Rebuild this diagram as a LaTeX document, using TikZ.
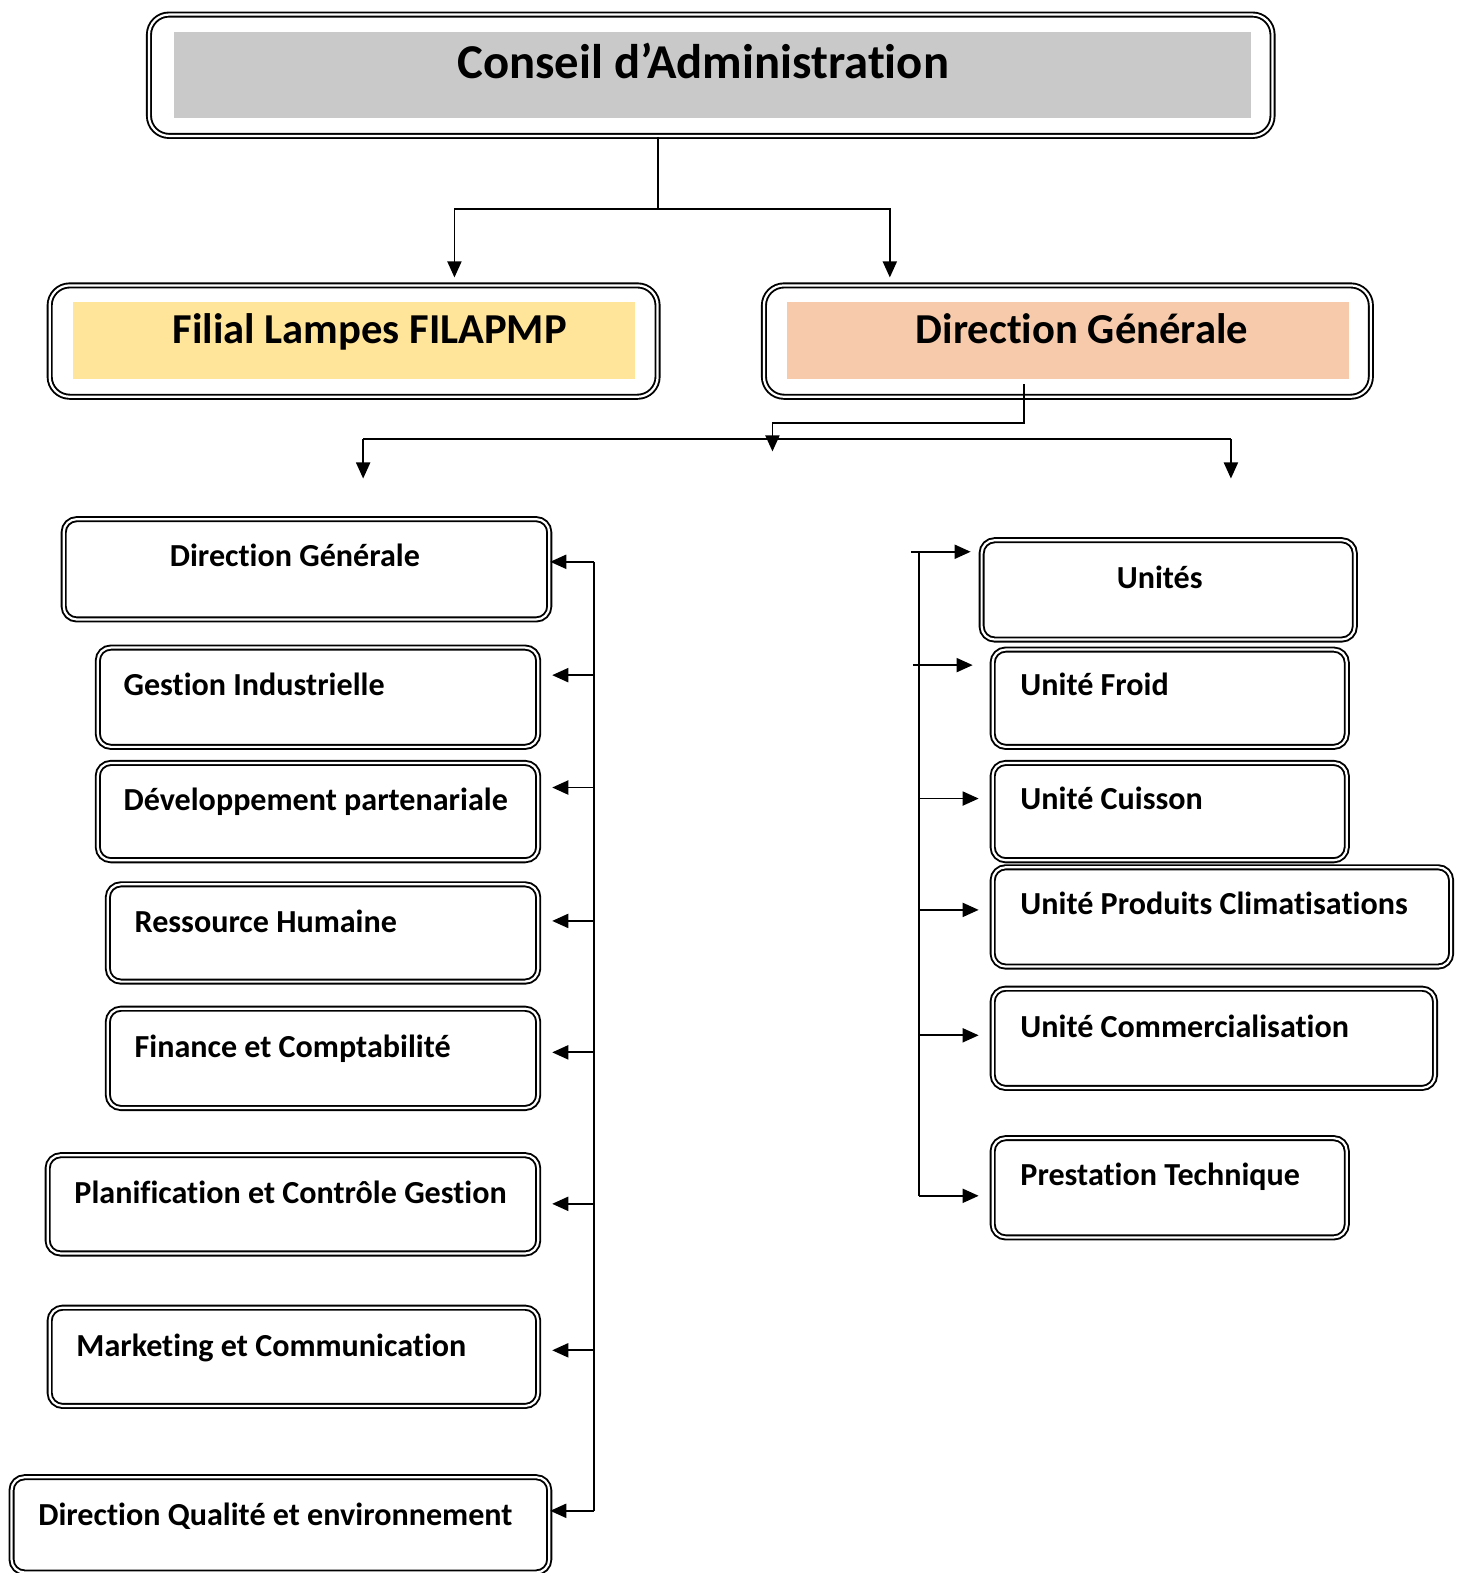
\documentclass[tikz,border=0pt]{standalone}
\usepackage{fontspec}
\setmainfont{Carlito}[RawFeature=-liga, RawFeature=-clig, RawFeature=-calt, RawFeature=-dlig]
\usetikzlibrary{arrows.meta}

\definecolor{bandgray}{HTML}{C9C9C9}
\definecolor{bandgold}{HTML}{FFE599}
\definecolor{bandpeach}{HTML}{F7CAAC}

\begin{document}
\begin{tikzpicture}[x=1pt, y=-1pt,
  orgbox/.style={draw, double, line width=1.9pt, double distance=2.2pt, rounded corners=13pt, inner sep=0pt},
  bigbox/.style={orgbox, rounded corners=20pt},
  bandbox/.style={inner sep=0pt},
  ctext/.style={font=\fontsize{48.5}{58}\selectfont\bfseries, inner sep=0pt, anchor=base},
  htext/.style={font=\fontsize{42.5}{50}\selectfont\bfseries, inner sep=0pt, anchor=base},
  utext/.style={font=\fontsize{32}{38}\selectfont\bfseries, inner sep=0pt, anchor=base west},
  wire/.style={line width=1.8pt},
  link/.style={wire, -{Triangle[length=16pt,width=14pt]}}]
\useasboundingbox (0,0) rectangle (1459,1568);

% top level
\node[bigbox, minimum width=1120pt, minimum height=121pt] (ca) at (708.5,75) {};
\node[bandbox, fill=bandgray, minimum width=1074pt, minimum height=86pt] (ca-band) at (710,75) {};
\node[ctext] (ca-t) at (701,78) {Conseil d’Administration};

\node[bigbox, minimum width=606pt, minimum height=111pt] (fil) at (352.5,340) {};
\node[bandbox, fill=bandgold, minimum width=560pt, minimum height=77pt] (fil-band) at (353,339.5) {};
\node[htext] (fil-t) at (368.5,342) {Filial Lampes FILAPMP};

\node[bigbox, minimum width=605pt, minimum height=111pt] (dg) at (1064,340) {};
\node[bandbox, fill=bandpeach, minimum width=561pt, minimum height=77pt] (dg-band) at (1064.5,339.5) {};
\node[htext] (dg-t) at (1078.5,342) {Direction Générale};

% left column
\node[orgbox, minimum width=484pt, minimum height=100pt] (ldg) at (305.5,567.5) {};
\node[utext, anchor=base] (ldg-t) at (294,564.5) {Direction Générale};
\node[orgbox, minimum width=439pt, minimum height=99pt] (gi) at (317,695) {};
\node[utext] (gi-t) at (123,693) {Gestion Industrielle};
\node[orgbox, minimum width=439pt, minimum height=97pt] (dp) at (317,809) {};
\node[utext] (dp-t) at (123,808) {Développement partenariale};
\node[orgbox, minimum width=429pt, minimum height=97pt] (rh) at (322,930) {};
\node[utext] (rh-t) at (134,930) {Ressource Humaine};
\node[orgbox, minimum width=429pt, minimum height=99pt] (fc) at (322,1055) {};
\node[utext] (fc-t) at (134,1054) {Finance et Comptabilité};
\node[orgbox, minimum width=489pt, minimum height=98pt] (pc) at (292,1200.5) {};
\node[utext] (pc-t) at (74,1200) {Planification et Contrôle Gestion};
\node[orgbox, minimum width=487pt, minimum height=98pt] (mc) at (293,1352.5) {};
\node[utext] (mc-t) at (76,1352) {Marketing et Communication};
\node[orgbox, minimum width=536pt, minimum height=95pt] (dq) at (279.5,1520) {};
\node[utext] (dq-t) at (38,1521) {Direction Qualité et environnement};

% right column
\node[orgbox, minimum width=372pt, minimum height=99pt] (un) at (1164.5,588) {};
\node[utext, anchor=base] (un-t) at (1156,587) {Unités};
\node[orgbox, minimum width=353pt, minimum height=97pt] (uf) at (1166,696) {};
\node[utext] (uf-t) at (1017,693) {Unité Froid};
\node[orgbox, minimum width=353pt, minimum height=97pt] (uc) at (1166,809) {};
\node[utext] (uc-t) at (1017,807) {Unité Cuisson};
\node[orgbox, minimum width=457pt, minimum height=99pt] (up) at (1218,914) {};
\node[utext] (up-t) at (1017,912) {Unité Produits Climatisations};
\node[orgbox, minimum width=441pt, minimum height=99pt] (ucm) at (1210,1035) {};
\node[utext] (ucm-t) at (1017,1034) {Unité Commercialisation};
\node[orgbox, minimum width=353pt, minimum height=99pt] (pt) at (1166,1184) {};
\node[utext] (pt-t) at (1017,1182) {Prestation Technique};

% connectors, top
\coordinate (ca-split) at (656,208);
\coordinate (fil-in) at (453,208);
\coordinate (dg-in) at (887,208);
\draw[wire] (ca.south -| ca-split) -- (ca-split);
\draw[link, shorten >=7pt] (ca-split) -- (fil-in) -- (fil-in |- fil.north);
\draw[link, shorten >=7pt] (ca-split) -- (dg-in) -- (dg-in |- dg.north);

\coordinate (dg-stub) at (1021,383);
\coordinate (dg-mid) at (770,422);
\coordinate (dg-drop) at (770,450);
\draw[link] (dg-stub) |- (dg-mid) -- (dg-drop);

\coordinate (split-l) at (362,438);
\coordinate (split-r) at (1227,438);
\coordinate (left-drop) at (362,477);
\coordinate (right-drop) at (1227,477);
\draw[wire] (split-l) -- (split-r);
\draw[link] (split-l) -- (left-drop);
\draw[link] (split-r) -- (right-drop);

% left bus
\foreach \b/\y/\s in {ldg/560/0, gi/673/13, dp/785/13, rh/918/13, fc/1049/13, pc/1200/13, mc/1346/13, dq/1506/0}{
  \coordinate (lb-\b) at (592,\y);
  \draw[link, shorten >=\s pt] (lb-\b) -- (lb-\b -| \b.east);
}
\draw[wire] (lb-ldg) -- (lb-dq);

% right bus
\foreach \b/\x/\y/\s in {un/908/550/10, uf/910/663/19, uc/916/796/13, up/916/907/13, ucm/916/1032/13, pt/916/1192/13}{
  \coordinate (rb-\b) at (\x,\y);
  \draw[link, shorten >=\s pt] (rb-\b) -- (rb-\b -| \b.west);
}
\draw[wire] (916,550) -- (rb-pt);
\end{tikzpicture}
\end{document}
